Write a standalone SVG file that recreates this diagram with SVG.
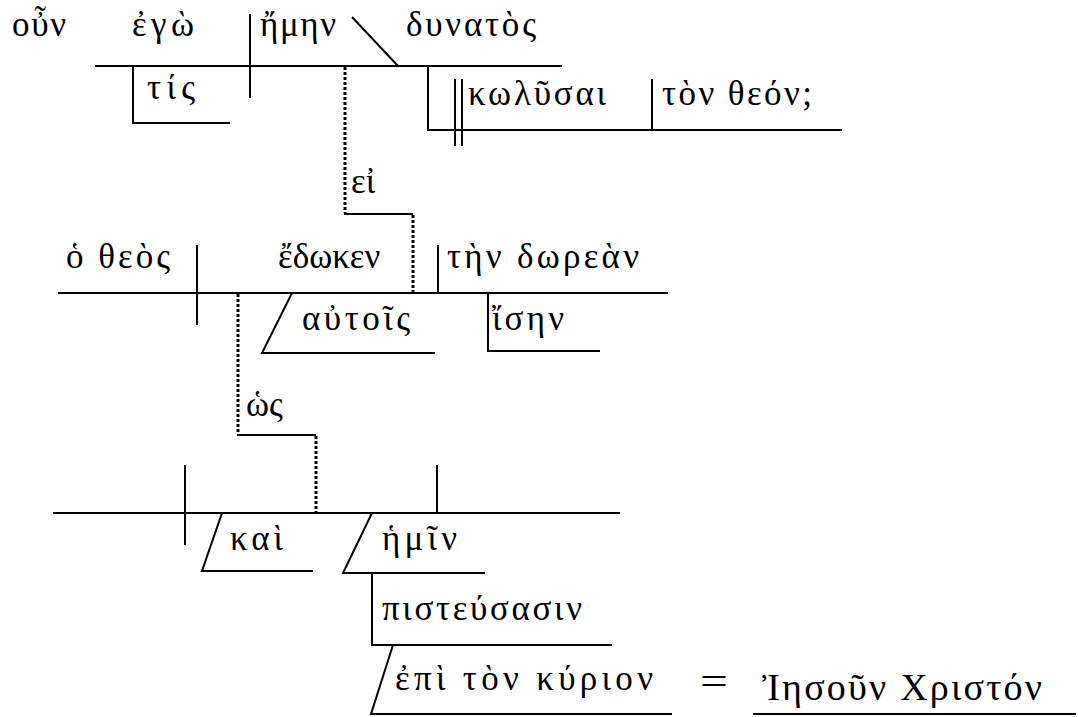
<svg xmlns="http://www.w3.org/2000/svg" width="1078" height="717" viewBox="0 0 1078 717">
<style>
.ln{stroke:#000;stroke-width:2;fill:none}
.dt{stroke:#000;stroke-width:3;stroke-dasharray:3 2;fill:none}
text{font-family:"Liberation Serif","DejaVu Serif",serif;font-size:35px;fill:#000}
.big{font-size:38px}
</style>
<rect width="1078" height="717" fill="#fff"/>
<g id="connectors">
<line class="ln" x1="95" y1="66" x2="562" y2="66"/>
<line class="ln" x1="250" y1="14" x2="250" y2="98"/>
<line class="ln" x1="352" y1="17" x2="398" y2="66"/>
<polyline class="ln" points="133,66 133,123 230,123"/>
<polyline class="ln" points="428,66 428,130 842,130"/>
<line class="ln" x1="455" y1="79" x2="455" y2="146"/>
<line class="ln" x1="462" y1="79" x2="462" y2="146"/>
<line class="ln" x1="652" y1="79" x2="652" y2="130"/>
<line class="dt" x1="345" y1="67" x2="345" y2="213"/>
<line class="ln" x1="344" y1="214" x2="413" y2="214"/>
<line class="dt" x1="413" y1="215" x2="413" y2="292"/>
<line class="ln" x1="58" y1="293" x2="668" y2="293"/>
<line class="ln" x1="197" y1="245" x2="197" y2="325"/>
<line class="ln" x1="438" y1="245" x2="438" y2="293"/>
<polyline class="ln" points="292,293 262,353 435,353"/>
<polyline class="ln" points="488,293 488,351 600,351"/>
<line class="dt" x1="238" y1="294" x2="238" y2="434"/>
<line class="ln" x1="237" y1="435" x2="316" y2="435"/>
<line class="dt" x1="316" y1="436" x2="316" y2="512"/>
<line class="ln" x1="53" y1="513" x2="620" y2="513"/>
<line class="ln" x1="185" y1="465" x2="185" y2="545"/>
<line class="ln" x1="437" y1="465" x2="437" y2="513"/>
<polyline class="ln" points="222,513 202,571 313,571"/>
<polyline class="ln" points="372,513 343,573 485,573"/>
<polyline class="ln" points="372,573 372,645 612,645"/>
<polyline class="ln" points="393,645 371,714 672,714"/>
<line class="ln" x1="753" y1="714" x2="1076" y2="714"/>
</g>
<g id="n-oun"><text x="12" y="36" textLength="54" lengthAdjust="spacing">οὖν</text></g>
<g id="n-ego"><text x="132" y="36" textLength="62" lengthAdjust="spacing">ἐγὼ</text></g>
<g id="n-emen"><text x="260" y="36" textLength="76" lengthAdjust="spacing">ἤμην</text></g>
<g id="n-dynatos"><text x="406" y="36" textLength="130" lengthAdjust="spacing">δυνατὸς</text></g>
<g id="n-tis"><text x="147" y="99" textLength="48" lengthAdjust="spacing">τίς</text></g>
<g id="n-kolysai"><text x="468" y="105" textLength="138" lengthAdjust="spacing">κωλῦσαι</text></g>
<g id="n-ton-theon"><text x="662" y="105" textLength="150" lengthAdjust="spacing">τὸν θεόν;</text></g>
<g id="n-ei"><text x="351" y="193">εἰ</text></g>
<g id="n-ho-theos"><text x="66" y="268" textLength="104" lengthAdjust="spacing">ὁ θεὸς</text></g>
<g id="n-edoken"><text x="278" y="268">ἔδωκεν</text></g>
<g id="n-ten-dorean"><text x="447" y="268" textLength="192" lengthAdjust="spacing">τὴν δωρεὰν</text></g>
<g id="n-autois"><text x="302" y="330" textLength="108" lengthAdjust="spacing">αὐτοῖς</text></g>
<g id="n-isen"><text x="492" y="330" textLength="72" lengthAdjust="spacing">ἴσην</text></g>
<g id="n-hos"><text x="246" y="416">ὡς</text></g>
<g id="n-kai"><text x="230" y="550" textLength="53" lengthAdjust="spacing">καὶ</text></g>
<g id="n-hemin"><text x="382" y="550" textLength="75" lengthAdjust="spacing">ἡμῖν</text></g>
<g id="n-pisteusasin"><text x="382" y="620" textLength="200" lengthAdjust="spacing">πιστεύσασιν</text></g>
<g id="n-epi"><text x="395" y="690" textLength="258" lengthAdjust="spacing">ἐπὶ τὸν κύριον</text></g>
<g id="n-eq"><text x="700" y="694" class="big" textLength="28" lengthAdjust="spacingAndGlyphs">=</text></g>
<g id="n-iesoun"><text x="762" y="700" class="big" textLength="280" lengthAdjust="spacing">Ἰησοῦν Χριστόν</text></g>
</svg>
